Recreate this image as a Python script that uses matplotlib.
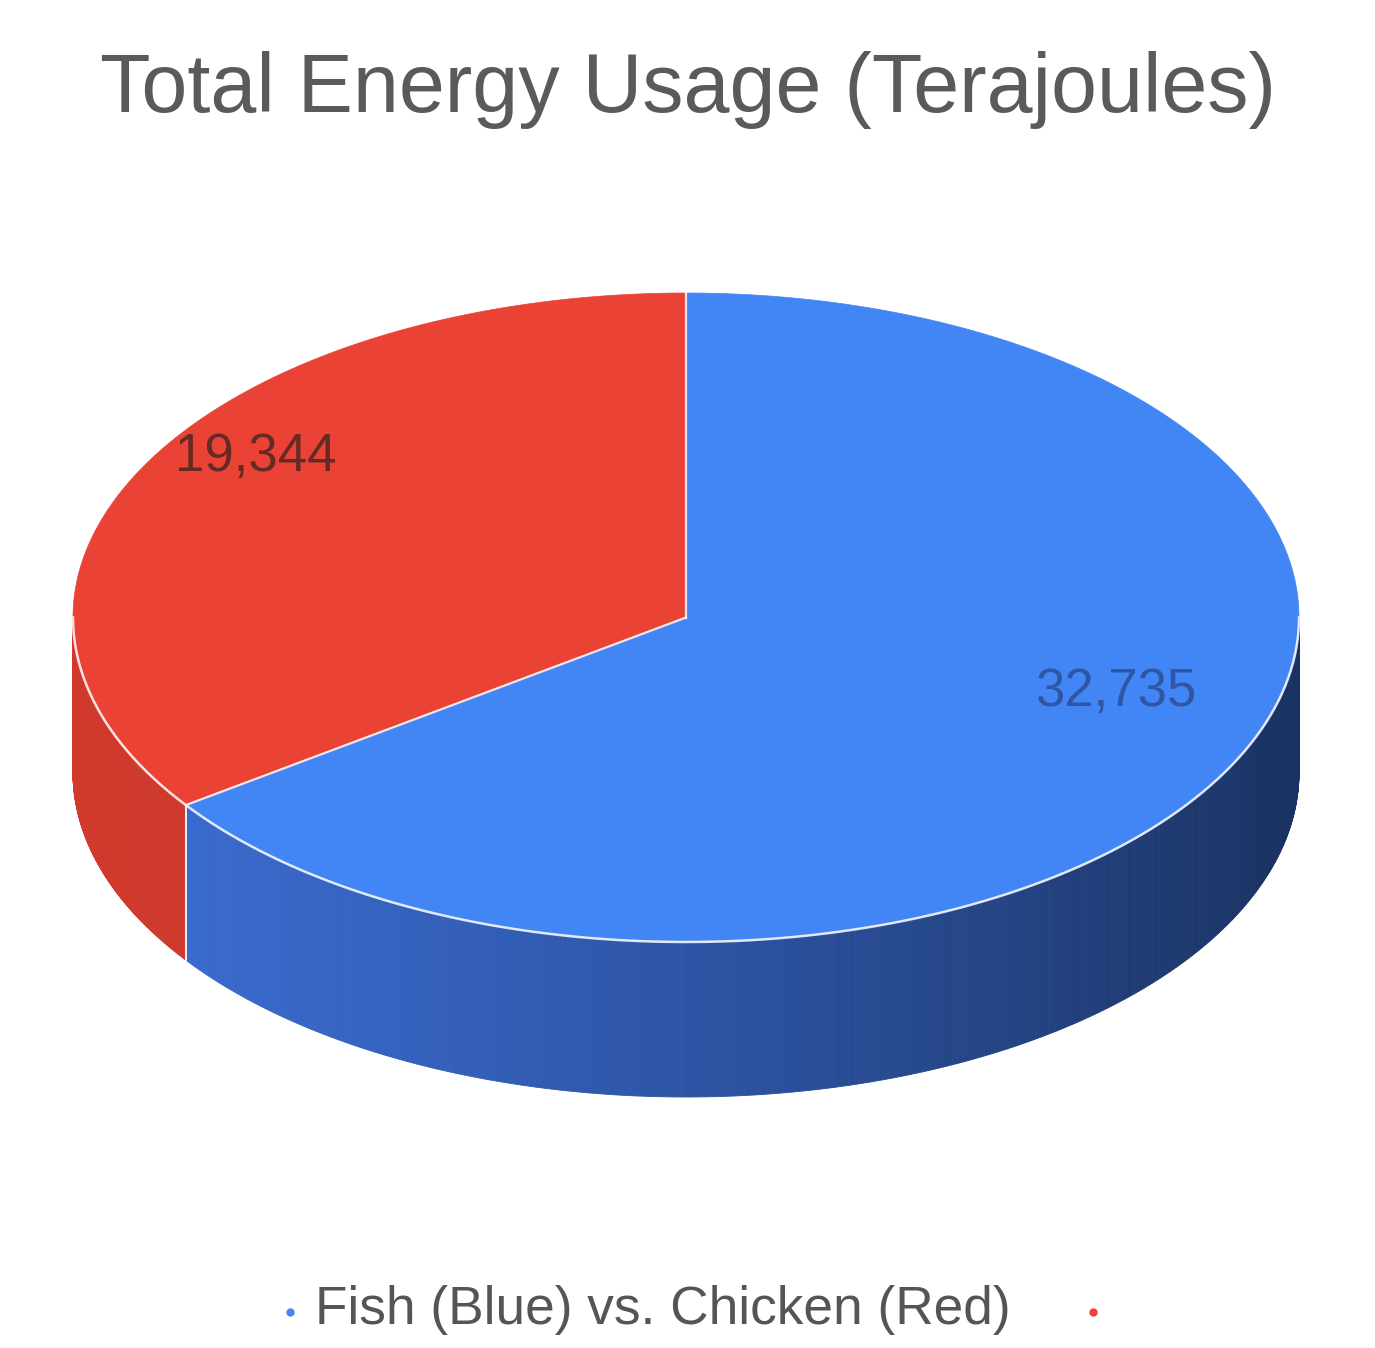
import numpy as np
import matplotlib
matplotlib.use("Agg")
import matplotlib.pyplot as plt
from matplotlib.patches import Polygon
from matplotlib.colors import to_rgb

# ---------------- data ----------------
title = "Total Energy Usage (Terajoules)"
categories = ["Fish (Blue) vs. Chicken (Red)", ""]
values = [32735, 19344]
value_labels = ["32,735", "19,344"]
top_colors = ["#4285F4", "#EA4335"]
side_light = ["#3a6cd2", "#cf3a2d"]
side_dark = ["#1a3262", "#b8322a"]
label_colors = ["#2c4d96", "#4e2620"]

# ---------------- layout ----------------
W, H = 1375, 1348
fig = plt.figure(figsize=(W / 100, H / 100), dpi=100)
ax = fig.add_axes([0, 0, 1, 1])
ax.set_xlim(0, W)
ax.set_ylim(H, 0)
ax.axis("off")

cx, cy, rx, ry, depth = 686, 617.5, 613, 324.5, 155
tilt = 0.741  # perspective warp of slice angles
xmin_side, xmax_side = cx - rx, cx + rx


def proj(phi):
    """true slice angle -> parametric angle on the drawn ellipse"""
    return np.unwrap(np.atleast_1d(np.arctan2(tilt * np.sin(phi), np.cos(phi))))


def pt(t):
    return cx + rx * np.cos(t), cy - ry * np.sin(t)


total = float(sum(values))
start = np.pi / 2
spans = []
for v in values:
    sweep = 2 * np.pi * v / total
    phis = np.linspace(start, start - sweep, 800)  # clockwise
    spans.append(proj(phis))
    start -= sweep

# ---- side faces (visible lower half) ----
for i, ts in enumerate(spans):
    for k in range(len(ts) - 1):
        t0, t1 = ts[k], ts[k + 1]
        tm = 0.5 * (t0 + t1)
        if np.sin(tm) >= 0:
            continue
        x0, y0 = pt(t0)
        x1, y1 = pt(t1)
        f = ((x0 + x1) / 2 - xmin_side) / (xmax_side - xmin_side)
        f = np.clip(f, 0, 1) ** 1.3
        c = (1 - f) * np.array(to_rgb(side_light[i])) + f * np.array(to_rgb(side_dark[i]))
        poly = Polygon([(x0, y0), (x1, y1), (x1, y1 + depth), (x0, y0 + depth)],
                       closed=True, facecolor=c, edgecolor=c, lw=0.6, zorder=1)
        ax.add_patch(poly)

# boundary line on side where slices meet in the front
for ts in spans:
    for t in (ts[0], ts[-1]):
        if np.sin(t) < -1e-6:
            x, y = pt(t)
            ax.plot([x, x], [y, y + depth], color="white", lw=1.3, alpha=0.75, zorder=2)

# ---- top faces ----
for i, ts in enumerate(spans):
    xs, ys = pt(ts)
    verts = [(cx, cy)] + list(zip(xs, ys))
    ax.add_patch(Polygon(verts, closed=True, facecolor=top_colors[i],
                         edgecolor=top_colors[i], lw=0.5, zorder=3))

# slice boundary lines on top
for ts in spans:
    x, y = pt(ts[0])
    ax.plot([cx, x], [cy, y], color="white", lw=1.6, alpha=0.85, zorder=4)

# white front rim
tt = np.linspace(np.pi, 2 * np.pi, 400)
xr, yr = pt(tt)
ax.plot(xr, yr, color="white", lw=1.8, alpha=0.85, zorder=4)

# ---- value labels ----
for i, ts in enumerate(spans):
    tm = 0.5 * (ts[0] + ts[-1])
    lx = cx + 0.79 * rx * np.cos(tm)
    ly = cy - 0.79 * ry * np.sin(tm) - 43
    ax.text(lx, ly, value_labels[i], ha="center", va="center", fontsize=38,
            color=label_colors[i], family="Liberation Sans", alpha=0.85, zorder=5)

# ---- title ----
ax.text(W / 2 + 1, 90, title, ha="center", va="center", fontsize=59.5,
        color="#5a5a5a", family="Liberation Sans")

# ---- legend ----
ax.plot([290], [1312], marker="o", ms=6, color=top_colors[0], mec="none")
ax.text(315, 1310, categories[0], ha="left", va="center", fontsize=38.3,
        color="#555555", family="Liberation Sans")
ax.plot([1093], [1312], marker="o", ms=6, color=top_colors[1], mec="none")
ax.text(1110, 1310, categories[1], ha="left", va="center", fontsize=38.3,
        color="#555555", family="Liberation Sans")

fig.savefig("out.png", dpi=100, facecolor="white")
